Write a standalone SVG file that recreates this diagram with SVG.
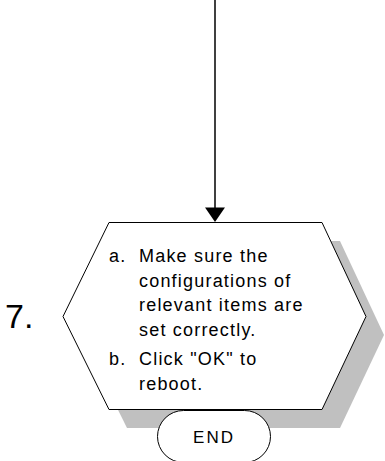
<svg xmlns="http://www.w3.org/2000/svg" width="385" height="461" viewBox="0 0 385 461">
<style>
.t{font-family:"Liberation Sans",Arial,sans-serif;font-size:18px;letter-spacing:1.2px;fill:#000}
.shape{fill:#fff;stroke:#000;stroke-width:1}
</style>
<rect width="385" height="461" fill="#fff"/>
<g id="connectors">
<line x1="215" y1="0" x2="215" y2="208" stroke="#000" stroke-width="1.5"/>
<polygon points="205,207.5 225,207.5 215,222" fill="#000"/>
</g>
<g id="step7">
<polygon points="127,241 340,241 384,335 340,428 127,428 81,335" fill="#c0c0c0"/>
<polygon class="shape" points="109,222.5 322,222.5 366,316.5 322,409.5 109,409.5 63,316.5"/>
<text class="t" x="109" y="262">a.</text>
<text class="t" x="139" y="262">Make sure the</text>
<text class="t" x="139" y="286.5">configurations of</text>
<text class="t" x="139" y="311">relevant items are</text>
<text class="t" x="139" y="336">set correctly.</text>
<text class="t" x="109" y="365">b.</text>
<text class="t" x="139" y="365">Click "OK" to</text>
<text class="t" x="139" y="390">reboot.</text>
</g>
<g id="label7">
<text x="5" y="327.5" style="font-family:'Liberation Sans',Arial,sans-serif;font-size:34px">7.</text>
</g>
<g id="end">
<rect class="shape" x="157.5" y="410.5" width="113" height="52" rx="26" ry="26"/>
<text x="214" y="442.5" text-anchor="middle" style="font-family:'Liberation Sans',Arial,sans-serif;font-size:17px;letter-spacing:2px">END</text>
</g>
</svg>
